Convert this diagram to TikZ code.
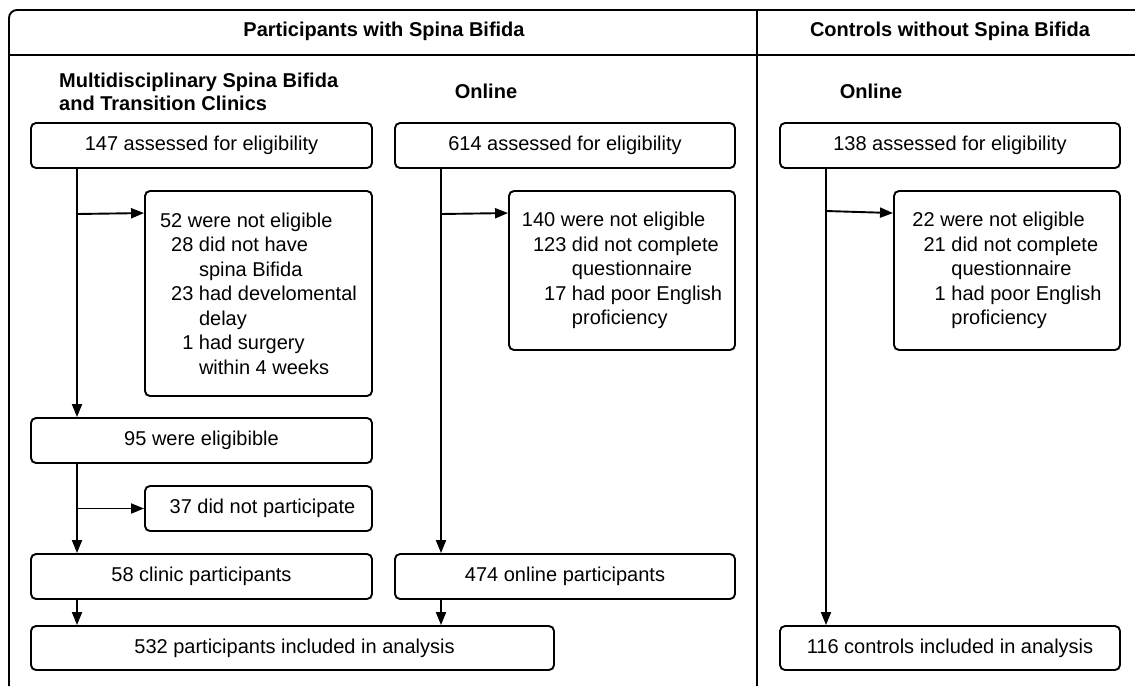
\documentclass[tikz,border=0pt]{standalone}
\usepackage{fontspec}
\setmainfont{Liberation Sans}
\usetikzlibrary{arrows.meta}
\tikzset{
  box/.style={draw, line width=1.9pt, rounded corners=5pt, inner sep=0pt,
    minimum height=45pt, font=\fontsize{20}{24.5}\selectfont},
  widebox/.style={box, minimum width=341pt},
  sidebox/.style={box, minimum width=227pt, align=left},
  head/.style={font=\bfseries\fontsize{20}{23}\selectfont, inner sep=0pt},
  arr/.style={line width=1.9pt, -{Triangle[length=13pt,width=10pt]}},
  frame/.style={line width=1.9pt}
}
\newcommand{\ind}[1]{\hspace*{#1em}}
\begin{document}
\begin{tikzpicture}[x=1pt,y=-1pt]
  \useasboundingbox (0,0) rectangle (1135,686);
  \draw[frame, rounded corners=8pt] (9,686) -- (9,10) -- (1135,10);
  \draw[frame] (9,55) -- (1135,55);
  \draw[frame] (757,10) -- (757,686);
  \draw
    (384,31) node[head] (hsb){Participants with Spina Bifida}
    (950,31) node[head] (hctl){Controls without Spina Bifida}
    (59,91.5) node[head, anchor=west, align=left] (hclin){Multidisciplinary Spina Bifida\\and Transition Clinics}
    (486,91) node[head] (hon){Online}
    (871,91) node[head] (hcon){Online};
  \draw
    (201.5,145.5) node[widebox] (a1){147 assessed for eligibility}
    (258.5,293.5) node[sidebox, minimum height=205pt] (a2){52 were not eligible\\
      \ind{0.556}28 did not have\\\ind{1.946}spina Bifida\\
      \ind{0.556}23 had develomental\\\ind{1.946}delay\\
      \ind{1.112}1 had surgery\\\ind{1.946}within 4 weeks}
    (201.5,440.5) node[widebox] (a3){95 were eligibible}
    (258.5,508.5) node[box, minimum width=227pt] (a4){\ind{0.4}37 did not participate}
    (201.5,576.5) node[widebox] (a5){58 clinic participants}
    (565,145.5) node[widebox, minimum width=340pt] (b1){614 assessed for eligibility}
    (622,270.5) node[sidebox, minimum width=226pt, minimum height=159pt] (b2){140 were not eligible\\
      \ind{0.556}123 did not complete\\\ind{2.502}questionnaire\\
      \ind{1.112}17 had poor English\\\ind{2.502}proficiency}
    (565,576.5) node[widebox, minimum width=340pt] (b5){474 online participants}
    (292.5,648) node[box, minimum width=523pt, minimum height=44pt] (all){\ind{0.2}532 participants included in analysis}
    (950,145.5) node[widebox, minimum width=340pt] (c1){138 assessed for eligibility}
    (1007,270.5) node[sidebox, minimum width=226pt, minimum height=159pt] (c2){22 were not eligible\\
      \ind{0.556}21 did not complete\\\ind{1.946}questionnaire\\
      \ind{1.112}1 had poor English\\\ind{1.946}proficiency}
    (950,648) node[box, minimum width=340pt, minimum height=44pt] (c5){116 controls included in analysis};
  \coordinate (clin) at (77,0);
  \coordinate (onl) at (441,0);
  \coordinate (ctl) at (826,0);
  \begin{scope}[arr]
    \draw (a1.south -| clin) to (a3.north -| clin);
    \draw (clin |- 0,214) to ([yshift=-23pt]a2.north west);
    \draw (a3.south -| clin) to (a5.north -| clin);
    \draw (clin |- a4.west) to (a4.west);
    \draw (a5.south -| clin) to (all.north -| clin);
    \draw (b1.south -| onl) to (b5.north -| onl);
    \draw (onl |- 0,214) to ([yshift=-23pt]b2.north west);
    \draw (b5.south -| onl) to (all.north -| onl);
    \draw (c1.south -| ctl) to (c5.north -| ctl);
    \draw (ctl |- 0,211) to ([yshift=-23pt]c2.north west);
  \end{scope}
\end{tikzpicture}
\end{document}
